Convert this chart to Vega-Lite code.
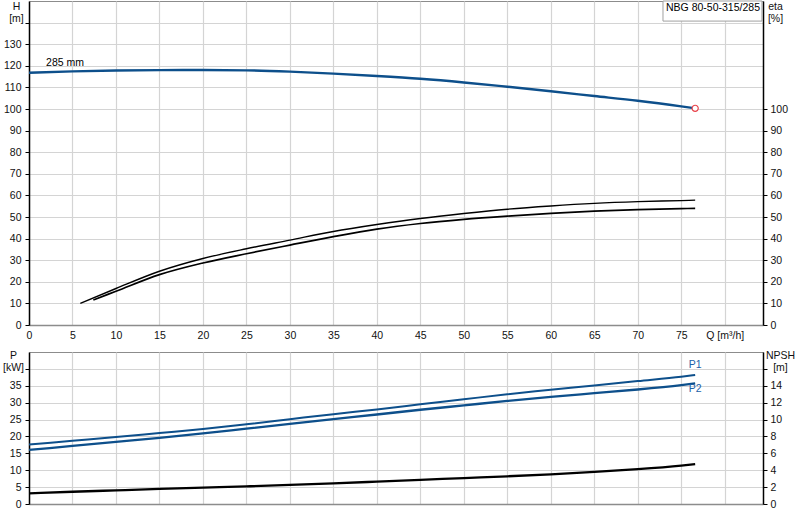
{
  "$schema": "https://vega.github.io/schema/vega-lite/v6.json",
  "padding": {"left": 2, "top": 0, "right": 0, "bottom": 0},
  "background": "#ffffff",
  "datasets": {
    "head": [
      {"Q": 0, "H": 116.8}, {"Q": 5, "H": 117.4}, {"Q": 10, "H": 117.8}, {"Q": 15, "H": 118.0},
      {"Q": 20, "H": 118.05}, {"Q": 25, "H": 117.9}, {"Q": 30, "H": 117.3}, {"Q": 35, "H": 116.4},
      {"Q": 40, "H": 115.3}, {"Q": 45, "H": 114.0}, {"Q": 50, "H": 112.3}, {"Q": 55, "H": 110.3},
      {"Q": 60, "H": 108.2}, {"Q": 65, "H": 106.0}, {"Q": 70, "H": 103.8}, {"Q": 75, "H": 101.2},
      {"Q": 76.6, "H": 100.3}
    ],
    "eta": [
      {"curve": "upper", "Q": 5.9, "eta": 10.0}, {"curve": "upper", "Q": 10, "eta": 16.9},
      {"curve": "upper", "Q": 15, "eta": 24.9}, {"curve": "upper", "Q": 20, "eta": 30.8},
      {"curve": "upper", "Q": 25, "eta": 35.3}, {"curve": "upper", "Q": 30, "eta": 39.3},
      {"curve": "upper", "Q": 35, "eta": 43.3}, {"curve": "upper", "Q": 40, "eta": 46.5},
      {"curve": "upper", "Q": 45, "eta": 49.3}, {"curve": "upper", "Q": 50, "eta": 51.6},
      {"curve": "upper", "Q": 55, "eta": 53.6}, {"curve": "upper", "Q": 60, "eta": 55.1},
      {"curve": "upper", "Q": 65, "eta": 56.3}, {"curve": "upper", "Q": 70, "eta": 57.1},
      {"curve": "upper", "Q": 75, "eta": 57.6}, {"curve": "upper", "Q": 76.6, "eta": 57.8},
      {"curve": "lower", "Q": 7.4, "eta": 11.6}, {"curve": "lower", "Q": 10, "eta": 15.6},
      {"curve": "lower", "Q": 15, "eta": 23.3}, {"curve": "lower", "Q": 20, "eta": 28.7},
      {"curve": "lower", "Q": 25, "eta": 33.0}, {"curve": "lower", "Q": 30, "eta": 37.0},
      {"curve": "lower", "Q": 35, "eta": 40.9}, {"curve": "lower", "Q": 40, "eta": 44.4},
      {"curve": "lower", "Q": 45, "eta": 47.0}, {"curve": "lower", "Q": 50, "eta": 48.9},
      {"curve": "lower", "Q": 55, "eta": 50.4}, {"curve": "lower", "Q": 60, "eta": 51.7},
      {"curve": "lower", "Q": 65, "eta": 52.7}, {"curve": "lower", "Q": 70, "eta": 53.4},
      {"curve": "lower", "Q": 75, "eta": 53.9}, {"curve": "lower", "Q": 76.6, "eta": 54.0}
    ],
    "power": [
      {"curve": "P1", "Q": 0, "P": 17.6}, {"curve": "P1", "Q": 5, "P": 18.7}, {"curve": "P1", "Q": 10, "P": 19.8},
      {"curve": "P1", "Q": 15, "P": 21.0}, {"curve": "P1", "Q": 20, "P": 22.2}, {"curve": "P1", "Q": 25, "P": 23.6},
      {"curve": "P1", "Q": 30, "P": 25.1}, {"curve": "P1", "Q": 35, "P": 26.6}, {"curve": "P1", "Q": 40, "P": 28.0},
      {"curve": "P1", "Q": 45, "P": 29.5}, {"curve": "P1", "Q": 50, "P": 31.0}, {"curve": "P1", "Q": 55, "P": 32.5},
      {"curve": "P1", "Q": 60, "P": 33.8}, {"curve": "P1", "Q": 65, "P": 35.1}, {"curve": "P1", "Q": 70, "P": 36.4},
      {"curve": "P1", "Q": 75, "P": 37.7}, {"curve": "P1", "Q": 76.6, "P": 38.2},
      {"curve": "P2", "Q": 0, "P": 16.0}, {"curve": "P2", "Q": 5, "P": 17.2}, {"curve": "P2", "Q": 10, "P": 18.4},
      {"curve": "P2", "Q": 15, "P": 19.6}, {"curve": "P2", "Q": 20, "P": 20.9}, {"curve": "P2", "Q": 25, "P": 22.3},
      {"curve": "P2", "Q": 30, "P": 23.7}, {"curve": "P2", "Q": 35, "P": 25.1}, {"curve": "P2", "Q": 40, "P": 26.5},
      {"curve": "P2", "Q": 45, "P": 27.9}, {"curve": "P2", "Q": 50, "P": 29.2}, {"curve": "P2", "Q": 55, "P": 30.5},
      {"curve": "P2", "Q": 60, "P": 31.7}, {"curve": "P2", "Q": 65, "P": 32.8}, {"curve": "P2", "Q": 70, "P": 33.9},
      {"curve": "P2", "Q": 75, "P": 35.2}, {"curve": "P2", "Q": 76.6, "P": 35.7}
    ],
    "npsh": [
      {"Q": 0, "NPSH": 1.26}, {"Q": 5, "NPSH": 1.45}, {"Q": 10, "NPSH": 1.62}, {"Q": 15, "NPSH": 1.78},
      {"Q": 20, "NPSH": 1.94}, {"Q": 25, "NPSH": 2.09}, {"Q": 30, "NPSH": 2.26}, {"Q": 35, "NPSH": 2.45},
      {"Q": 40, "NPSH": 2.65}, {"Q": 45, "NPSH": 2.86}, {"Q": 50, "NPSH": 3.07}, {"Q": 55, "NPSH": 3.28},
      {"Q": 60, "NPSH": 3.52}, {"Q": 65, "NPSH": 3.8}, {"Q": 70, "NPSH": 4.13}, {"Q": 75, "NPSH": 4.55},
      {"Q": 76.6, "NPSH": 4.72}
    ],
    "notes": [
      {"Q": 4.14, "H": 121.4, "label": "285 mm"},
      {"Q": 78.65, "H": 146.6, "label": "NBG 80-50-315/285"}
    ],
    "frame": [
      {"Q": 72.9, "Q2": 84.28, "H": 140.7, "H2": 150}
    ]
  },
  "vconcat": [
    {
      "width": 734,
      "height": 324,
      "encoding": {
        "x": {
          "field": "Q", "type": "quantitative",
          "scale": {"domain": [0, 84.4], "nice": false, "zero": false},
          "axis": {
            "title": null, "values": [0, 5, 10, 15, 20, 25, 30, 35, 40, 45, 50, 55, 60, 65, 70, 75, 80],
            "labelExpr": "datum.value == 80 ? 'Q [m³/h]' : datum.label",
            "grid": true, "ticks": false, "labelPadding": 5,
            "domainColor": "#8c8c8c", "domainWidth": 1.5
          }
        }
      },
      "layer": [
        {
          "encoding": {
            "y": {
              "field": "H", "type": "quantitative",
              "scale": {"domain": [0, 150], "nice": false, "zero": false},
              "axis": {
                "orient": "left",
                "values": [0, 10, 20, 30, 40, 50, 60, 70, 80, 90, 100, 110, 120, 130, 140],
                "labelExpr": "datum.value == 140 ? '' : datum.label",
                "grid": true, "domainColor": "#000000", "domainWidth": 1.5,
                "tickColor": "#000000", "tickSize": 4, "labelPadding": 4,
                "title": ["H", "[m]"], "titleAngle": 0, "titleAlign": "center",
                "titleBaseline": "top", "titleX": -13, "titleY": 0, "titleLineHeight": 12
              }
            }
          },
          "layer": [
            {
              "data": {"name": "frame"},
              "mark": {"type": "rect", "fill": "#ffffff", "stroke": "#a0a0a0", "strokeWidth": 1},
              "encoding": {"x2": {"field": "Q2"}, "y2": {"field": "H2"}}
            },
            {
              "data": {"name": "notes"},
              "mark": {"type": "text", "fontSize": 10.5, "color": "#000000", "align": "center", "baseline": "middle"},
              "encoding": {"text": {"field": "label"}}
            },
            {
              "data": {"name": "head"},
              "mark": {"type": "line", "color": "#0d4f8b", "strokeWidth": 2.4, "interpolate": "monotone"}
            },
            {
              "data": {"name": "head"},
              "transform": [{"filter": "datum.Q >= 76.6"}],
              "mark": {"type": "point", "shape": "circle", "size": 38, "filled": true, "fill": "#ffffff", "stroke": "#e8424a", "strokeWidth": 1.2, "opacity": 1}
            }
          ]
        },
        {
          "data": {"name": "eta"},
          "mark": {"type": "line", "color": "#000000", "interpolate": "monotone"},
          "encoding": {
            "y": {
              "field": "eta", "type": "quantitative",
              "scale": {"domain": [0, 150], "nice": false, "zero": false},
              "axis": {
                "orient": "right",
                "values": [0, 10, 20, 30, 40, 50, 60, 70, 80, 90, 100],
                "grid": false, "domainColor": "#000000", "domainWidth": 1.5,
                "tickColor": "#000000", "tickSize": 4, "labelPadding": 3,
                "title": ["eta", "[%]"], "titleAngle": 0, "titleAlign": "center",
                "titleBaseline": "top", "titleX": 12, "titleY": 0, "titleLineHeight": 12
              }
            },
            "detail": {"field": "curve"},
            "strokeWidth": {
              "field": "curve", "type": "nominal",
              "scale": {"domain": ["upper", "lower"], "range": [1.4, 2.3]},
              "legend": null
            }
          }
        }
      ],
      "resolve": {"scale": {"y": "independent"}}
    },
    {
      "width": 734,
      "height": 152,
      "encoding": {
        "x": {
          "field": "Q", "type": "quantitative",
          "scale": {"domain": [0, 84.4], "nice": false, "zero": false},
          "axis": {
            "title": null, "values": [0, 5, 10, 15, 20, 25, 30, 35, 40, 45, 50, 55, 60, 65, 70, 75, 80],
            "labels": false, "grid": true, "ticks": false,
            "domainColor": "#8c8c8c", "domainWidth": 1.5
          }
        }
      },
      "layer": [
        {
          "data": {"name": "power"},
          "encoding": {
            "y": {
              "field": "P", "type": "quantitative",
              "scale": {"domain": [0, 45], "nice": false, "zero": false},
              "axis": {
                "orient": "left",
                "values": [0, 5, 10, 15, 20, 25, 30, 35, 40],
                "labelExpr": "datum.value == 40 ? '' : datum.label",
                "grid": true, "domainColor": "#000000", "domainWidth": 1.5,
                "tickColor": "#000000", "tickSize": 4, "labelPadding": 4,
                "title": ["P", "[kW]"], "titleAngle": 0, "titleAlign": "center",
                "titleBaseline": "top", "titleX": -16, "titleY": -2, "titleLineHeight": 12.5
              }
            }
          },
          "layer": [
            {
              "mark": {"type": "line", "color": "#0d4f8b", "interpolate": "monotone"},
              "encoding": {
                "detail": {"field": "curve"},
                "strokeWidth": {
                  "field": "curve", "type": "nominal",
                  "scale": {"domain": ["P1", "P2"], "range": [2.4, 1.4]},
                  "legend": null
                }
              }
            },
            {
              "transform": [{"filter": "datum.Q >= 76.6 && datum.curve == 'P1'"}],
              "mark": {"type": "text", "fontSize": 10.5, "color": "#2060a8", "align": "center", "baseline": "middle", "dy": -10},
              "encoding": {"text": {"field": "curve"}}
            },
            {
              "transform": [{"filter": "datum.Q >= 76.6 && datum.curve == 'P2'"}],
              "mark": {"type": "text", "fontSize": 10.5, "color": "#2060a8", "align": "center", "baseline": "middle", "dy": 6},
              "encoding": {"text": {"field": "curve"}}
            }
          ]
        },
        {
          "data": {"name": "npsh"},
          "mark": {"type": "line", "color": "#000000", "strokeWidth": 2.3, "interpolate": "monotone"},
          "encoding": {
            "y": {
              "field": "NPSH", "type": "quantitative",
              "scale": {"domain": [0, 18], "nice": false, "zero": false},
              "axis": {
                "orient": "right",
                "values": [0, 2, 4, 6, 8, 10, 12, 14, 16],
                "labelExpr": "datum.value == 16 ? '' : datum.label",
                "grid": false, "domainColor": "#000000", "domainWidth": 1.5,
                "tickColor": "#000000", "tickSize": 4, "labelPadding": 3,
                "title": ["NPSH", "[m]"], "titleAngle": 0, "titleAlign": "center",
                "titleBaseline": "top", "titleX": 17, "titleY": -2, "titleLineHeight": 12.5
              }
            }
          }
        }
      ],
      "resolve": {"scale": {"y": "independent"}}
    }
  ],
  "spacing": 27,
  "bounds": "flush",
  "config": {
    "font": "Liberation Sans",
    "view": {"stroke": "#8c8c8c", "strokeWidth": 1},
    "axis": {
      "labelFont": "Liberation Sans", "labelFontSize": 10.5, "labelColor": "#111111",
      "titleFont": "Liberation Sans", "titleFontSize": 10.5, "titleColor": "#111111", "titleFontWeight": "normal",
      "gridColor": "#d4d4d4", "gridWidth": 1.2,
      "labelOverlap": false, "labelFlush": false
    }
  }
}
